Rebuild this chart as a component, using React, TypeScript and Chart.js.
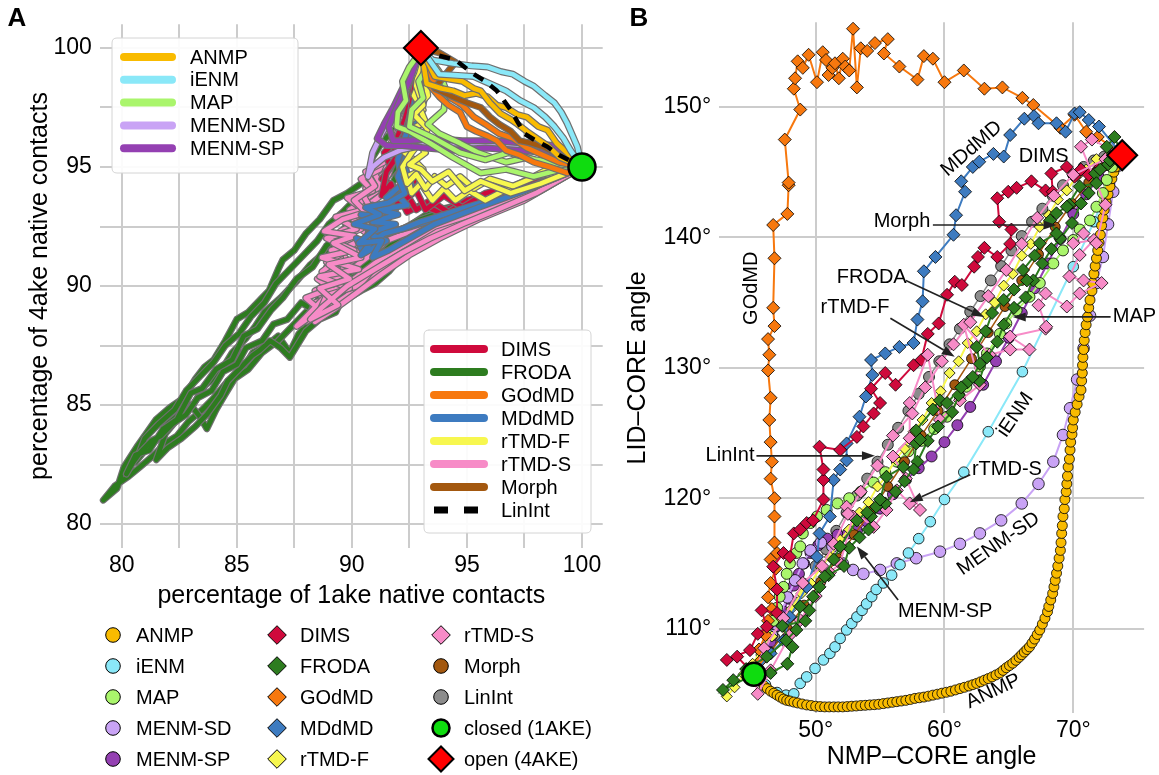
import React, { useEffect, useRef } from 'react';
import { Chart, registerables } from 'chart.js';

Chart.register(...registerables);

const FONT = '"Liberation Sans", Arial, Helvetica, sans-serif';

const COL: any = {
  ANMP: '#f9bb00', iENM: '#8ae8f8', MAP: '#aaf56c', 'MENM-SD': '#c9a3f5', 'MENM-SP': '#9440b2',
  DIMS: '#cf0a3c', FRODA: '#2d7c1f', GOdMD: '#f7780e', MDdMD: '#3d7bc0', 'rTMD-F': '#f7f74f',
  'rTMD-S': '#f78bc7', Morph: '#a3580f', LinInt: '#8c8c8c', closed: '#0fdc0f', open: '#ff0000',
};

// ---------------- Panel A data (percentage of native contacts) ----------------
const openA = [[93, 100]];
const closedA = [[100, 95]];

const frodaA1 = [[100,95],[99.0,94.6],[98.0,94.2],[97.1,93.7],[96.3,93.3],[95.4,93.0],[94.5,92.7],[93.6,92.5],[93.0,92.2],[92.6,91.6],[92.3,91.4],[91.6,90.6],[91.0,90.1],[90.4,89.8],[89.7,89.4],[89.0,89.1],[88.4,88.7],[87.7,88.0],[87.3,87.2],[86.8,87.9],[86.3,87.5],[85.7,87.2],[85.2,86.4],[84.6,86.0],[84.0,85.3],[83.5,84.8],[82.9,84.3],[82.4,83.7],[81.9,83.4],[81.4,82.9],[80.8,82.4],[80.3,82.0],[79.7,81.6],[79.2,81.0],[79.8,81.5],[80.1,82.4],[80.7,83.3],[81.5,84.4],[82.1,84.9],[82.7,85.3],[83.2,86.1],[83.6,86.6],[84.0,86.9],[84.5,87.7],[85.0,88.6],[85.5,88.9],[86.0,89.4],[86.4,89.8],[86.8,90.7],[87.0,91.1],[87.5,91.5],[88.0,92.2],[88.6,92.8],[89.2,93.6],[89.8,93.9],[90.4,94.3],[90.7,94.6],[90.9,95.4],[91.35,96.1],[91.9,96.6],[92.4,97.3],[92.7,97.9],[93.0,98.4],[93,100]];
const frodaA2 = [[100,95],[98.6,94.3],[97.2,94.0],[95.8,93.6],[94.6,93.4],[93.4,93.1],[92.6,92.6],[92.0,92.0],[91.3,91.5],[90.6,90.9],[89.8,90.3],[89.4,89.6],[88.8,89.4],[88.0,88.9],[87.4,88.3],[86.8,87.7],[86.1,87.2],[85.5,86.5],[84.9,86.1],[84.4,85.3],[84.1,84.8],[83.7,84.0],[83.4,84.5],[83.0,85.0],[82.5,84.6],[82.0,84.2],[81.6,83.6],[81.1,83.2],[80.6,82.6],[81.0,83.6],[81.6,84.2],[82.3,84.8],[82.8,85.6],[83.4,86.2],[84.0,86.8],[84.5,87.5],[85.1,88.0],[85.6,88.7],[86.2,89.3],[86.7,90.1],[87.3,90.7],[87.9,91.3],[88.5,91.9],[89.0,92.6],[89.6,93.1],[90.2,93.7],[90.9,94.0],[91.4,94.8],[91.8,95.6],[92.3,96.5],[92.6,97.4],[92.9,98.3],[93,100]];
const frodaA3 = [[100,95],[98.2,94.0],[96.8,93.5],[95.2,93.2],[94.0,92.9],[92.9,92.4],[92.1,91.7],[91.2,91.0],[90.5,90.5],[89.8,89.9],[89.3,88.9],[88.6,88.6],[88.0,88.1],[87.3,87.0],[86.9,87.4],[86.45,87.7],[86.0,87.3],[85.7,87.1],[85.2,86.6],[84.6,86.0],[84.3,85.4],[83.7,84.6],[83.2,84.1],[82.6,83.6],[82.0,83.2],[81.5,82.7],[81.9,83.8],[82.5,84.5],[83.1,85.0],[83.6,85.8],[84.3,86.4],[84.8,87.2],[85.4,87.8],[85.8,88.3],[86.2,88.9],[86.9,89.5],[87.6,90.2],[88.2,90.9],[88.8,91.4],[89.4,92.0],[90.0,92.7],[90.6,93.2],[91.1,93.8],[91.7,94.2],[92.2,95.1],[92.6,96.2],[92.9,97.0],[93.2,98.0],[93,100]];
const frodaA4 = [[100,95],[97.8,94.1],[96.0,93.7],[94.2,93.2],[93.0,92.8],[92.0,92.3],[91.2,91.6],[90.6,91.4],[90.0,90.6],[89.4,90.3],[88.7,89.7],[88.3,89.0],[87.8,89.3],[87.2,88.6],[86.6,88.4],[86.1,87.7],[85.4,87.4],[85.0,86.7],[84.4,86.4],[83.9,85.6],[83.3,85.3],[82.8,84.6],[82.2,84.2],[81.7,83.7],[81.3,83.5],[80.8,83.0],[80.5,82.6],[80.2,82.1],[80.6,82.9],[81.2,83.1],[81.8,84.0],[82.4,84.4],[83.0,85.5],[83.5,85.7],[84.1,86.5],[84.8,86.9],[85.3,87.9],[85.9,88.2],[86.5,89.0],[87.0,89.5],[87.6,90.3],[88.3,90.8],[88.9,91.7],[89.5,92.2],[90.2,93.1],[90.8,93.5],[91.3,94.3],[91.9,95.0],[92.3,96.0],[92.7,97.5],[93,100]];

const rtmdsA1 = [[100,95],[98.4,94.2],[97.0,93.6],[95.8,93.1],[94.6,92.6],[93.4,92.1],[92.5,91.5],[91.8,91.2],[91.2,90.6],[90.6,90.2],[89.8,89.6],[89.2,89.2],[88.6,88.8],[88.0,88.5],[88.4,89.3],[89.3,89.6],[88.7,90.0],[89.6,90.4],[88.9,90.8],[89.8,91.1],[89.3,91.6],[90.2,92.0],[89.7,92.4],[90.6,92.8],[90.2,93.3],[90.9,93.6],[90.6,94.1],[91.2,94.6],[91.5,95.4],[92.0,96.6],[92.5,97.8],[93,100]];
const rtmdsA2 = [[100,95],[98.0,94.0],[96.4,93.3],[95.0,92.7],[93.9,92.4],[92.9,91.9],[92.0,91.4],[91.0,90.8],[90.3,90.0],[89.4,89.8],[88.7,89.4],[88.2,88.9],[87.8,88.4],[88.3,88.9],[88.9,89.4],[88.4,89.8],[89.3,90.2],[88.7,90.6],[89.5,91.2],[89.1,91.5],[90.0,91.8],[89.5,92.3],[90.3,92.7],[89.9,93.2],[90.5,93.6],[91.1,94.0],[91.6,94.7],[91.9,95.5],[92.3,96.6],[92.7,98.0],[93,100]];
const rtmdsA3 = [[100,95],[97.6,94.1],[96.0,93.5],[94.4,93.0],[93.2,92.7],[92.3,92.2],[91.5,91.9],[90.8,91.3],[90.0,90.7],[89.4,90.4],[88.9,90.0],[89.6,90.8],[90.4,91.3],[89.9,91.7],[90.8,92.1],[90.1,92.6],[91.0,93.0],[90.7,93.4],[91.4,93.9],[91.0,94.3],[91.5,95.0],[92.0,96.0],[92.6,97.5],[93,100]];
const rtmdsA4 = [[100,95],[97.2,93.8],[95.2,93.0],[93.6,92.5],[92.4,91.8],[91.2,91.1],[90.1,90.3],[89.0,89.7],[88.1,88.8],[87.6,88.3],[88.6,89.0],[88.0,89.5],[89.1,89.9],[88.5,90.3],[89.4,90.7],[88.9,91.0],[89.8,91.5],[89.4,92.0],[90.4,92.4],[90.0,92.9],[90.8,93.3],[90.5,93.8],[91.3,94.2],[91.0,94.7],[91.7,95.3],[92.2,96.5],[92.7,98.0],[93,100]];
const rtmdsA5 = [[100,95],[97.5,93.6],[95.5,92.8],[93.8,92.0],[92.5,91.3],[91.3,90.5],[90.2,89.7],[89.2,89.0],[88.4,88.5],[88.9,89.6],[89.9,89.9],[88.6,90.4],[90.3,90.7],[88.7,91.2],[90.1,91.5],[88.9,92.0],[90.2,92.4],[89.3,92.9],[90.5,93.2],[89.8,93.7],[90.9,94.0],[90.4,94.5],[91.2,94.9],[91.5,95.6],[92.1,96.8],[92.7,98.2],[93,100]];
const rtmdsA6 = [[100,95],[98.0,93.9],[96.3,93.2],[94.8,92.6],[93.4,92.0],[92.2,91.4],[91.0,90.7],[89.8,90.0],[88.7,89.1],[88.2,88.6],[89.4,89.2],[88.6,89.9],[89.9,90.3],[89.0,90.9],[90.4,91.2],[89.2,91.8],[90.1,92.1],[88.8,92.3],[89.6,92.8],[90.6,93.1],[90.1,93.6],[91.0,94.2],[90.6,94.8],[91.4,95.2],[91.8,96.0],[92.4,97.4],[93,100]];

const dimsA1 = [[100,95],[98.5,94.6],[97.0,94.2],[95.6,93.8],[94.6,93.4],[93.8,93.1],[93.0,93.4],[92.4,93.1],[92.1,93.7],[91.6,93.4],[91.8,94.2],[91.3,94.5],[91.7,95.0],[91.4,95.6],[91.9,96.1],[92.3,97.0],[92.6,98.0],[93,100]];
const dimsA2 = [[100,95],[98.0,94.4],[96.5,94.0],[95.0,93.6],[94.2,93.1],[93.4,93.6],[92.8,93.2],[92.3,94.0],[92.7,94.4],[92.0,94.7],[92.4,95.2],[91.8,95.6],[92.3,96.4],[92.6,97.4],[93,100]];
const dimsA3 = [[100,95],[97.5,94.3],[95.8,93.9],[94.8,93.3],[94.0,93.8],[93.2,93.2],[92.8,94.0],[92.0,93.4],[91.7,94.3],[91.3,93.8],[91.5,94.8],[92.0,95.5],[92.5,97.0],[93,100]];

const mddmdA1 = [[100,95],[98.6,94.5],[97.3,94.0],[96.0,93.6],[94.8,93.2],[93.6,92.8],[92.6,92.5],[91.8,92.3],[91.0,92.0],[90.5,91.4],[90.2,92.0],[91.2,91.7],[90.6,92.5],[91.6,92.3],[90.4,93.0],[91.4,92.9],[90.9,93.4],[91.9,93.2],[91.5,93.7],[92.2,94.3],[92.0,95.3],[92.4,96.5],[92.8,98.0],[93,100]];
const mddmdA2 = [[100,95],[98.0,94.2],[96.7,93.8],[95.3,93.4],[94.0,93.0],[93.0,92.7],[92.2,92.4],[91.4,92.2],[90.8,91.8],[90.4,91.3],[91.5,91.9],[90.7,92.2],[91.9,92.6],[90.9,92.7],[92.0,93.0],[91.2,93.2],[92.4,93.4],[92.0,93.8],[92.6,94.2],[92.3,95.0],[92.6,96.3],[92.9,98.0],[93,100]];
const mddmdA3 = [[100,95],[97.5,94.0],[95.5,93.3],[93.6,92.6],[92.5,92.0],[91.6,91.5],[90.9,91.2],[91.3,91.9],[90.3,91.8],[91.0,92.4],[90.1,92.6],[91.2,93.0],[90.6,93.3],[91.6,93.5],[92.3,93.9],[92.0,94.6],[92.5,95.8],[92.8,97.5],[93,100]];

const rtmdfA1 = [[100,95],[98.5,94.9],[97.5,94.4],[96.6,94.0],[95.8,93.6],[95.1,94.0],[94.5,93.6],[94.0,94.1],[93.5,93.6],[93.0,94.3],[92.6,93.9],[92.4,94.6],[93.1,94.9],[92.7,95.3],[92.3,95.6],[92.8,96.3],[92.5,96.9],[93.1,97.4],[92.7,98.0],[93.0,98.7],[93,100]];
const rtmdfA2 = [[100,95],[98.0,94.6],[97.0,94.2],[96.0,94.5],[95.3,94.1],[94.7,94.6],[94.1,94.2],[93.6,94.6],[93.2,94.1],[92.8,94.7],[92.4,94.3],[92.2,95.0],[92.6,95.6],[93.0,96.1],[92.6,96.6],[93.2,96.9],[92.9,97.6],[93.3,98.0],[93,100]];
const rtmdfA3 = [[100,95],[98.2,94.3],[96.9,93.9],[95.6,94.4],[94.9,94.0],[94.2,94.8],[93.5,94.4],[93.0,94.9],[92.5,95.1],[93.2,95.6],[92.9,96.0],[93.3,96.6],[92.7,97.2],[93.1,97.6],[92.8,98.4],[93,100]];

const menmsdA1 = [[100,95],[98.8,95.5],[97.5,95.8],[96.3,95.9],[95.1,96.0],[94.0,96.0],[93.0,95.9],[92.1,95.7],[91.4,95.4],[90.9,95.0],[90.7,94.6],[90.9,95.6],[91.3,96.4],[91.8,97.2],[92.3,98.1],[92.7,99.0],[93,100]];
const menmspA1 = [[100,95],[98.6,95.6],[97.2,95.7],[95.8,95.8],[94.4,95.7],[93.2,95.8],[92.2,95.9],[91.5,95.9],[91.1,96.2],[91.4,96.8],[91.8,97.5],[92.2,98.3],[92.6,99.1],[93,100]];
const menmspA2 = [[100,95],[98.8,95.9],[97.6,96.0],[96.2,96.1],[94.8,96.1],[93.6,96.2],[92.5,96.1],[91.8,96.1],[91.6,96.7],[92.0,97.6],[92.5,98.6],[93,100]];

const mapA1 = [[93,100],[93.5,99.4],[93.8,99.0],[94.1,98.2],[94.0,97.4],[93.3,96.8],[93.8,96.4],[94.7,96.0],[95.5,95.6],[96.7,95.2],[97.6,95.4],[98.4,95.1],[99.3,95.2],[100,95]];
const mapA2 = [[93,100],[92.8,99.6],[92.5,99.2],[92.2,98.6],[92.35,97.8],[92.0,97.3],[91.95,96.7],[92.5,96.5],[93.4,96.0],[94.4,95.4],[95.6,94.75],[96.7,94.9],[97.9,94.6],[99.1,94.9],[100,95]];
const mapA3 = [[93,100],[93.3,99.2],[92.9,98.6],[93.1,97.9],[92.6,97.4],[92.5,96.7],[93.6,96.2],[94.7,95.6],[95.8,95.3],[96.8,95.6],[98.0,95.3],[99.2,95.1],[100,95]];

const godmdA1 = [[100,95],[99.35,94.75],[98.6,95.0],[97.9,95.2],[97.3,95.5],[96.7,95.7],[96.3,96.1],[95.9,96.3],[95.4,96.5],[95.0,96.7],[94.7,97.3],[94.2,97.6],[93.8,97.95],[93.4,98.4],[93.2,99.0],[93,100]];
const godmdA2 = [[100,95],[99.0,95.2],[98.3,95.5],[97.6,95.8],[97.0,96.2],[96.4,96.4],[95.8,96.8],[95.3,97.1],[94.8,97.6],[94.3,97.9],[93.9,98.3],[93.5,98.7],[93,100]];

const morphA1 = [[93,100],[93.8,99.8],[94.5,99.4],[94.0,98.8],[93.6,98.3],[94.4,97.95],[95.0,97.7],[95.6,97.5],[96.0,97.1],[96.4,96.8],[96.9,96.5],[97.3,96.1],[97.8,96.0],[98.3,95.85],[98.8,95.6],[99.2,95.4],[100,95]];

const anmpA1 = [[93,100],[93.25,98.5],[93.9,98.3],[94.4,98.2],[94.9,98.0],[95.4,98.1],[95.9,97.95],[96.3,97.6],[96.7,97.5],[97.2,97.2],[97.6,97.1],[98.1,96.7],[98.5,96.55],[98.9,96.0],[99.35,95.6],[100,95]];
const anmpA2 = [[93,100],[93.6,98.8],[94.2,98.7],[94.8,98.6],[95.3,98.3],[95.6,98.2],[96.0,97.7],[96.45,97.25],[96.9,97.0],[97.2,96.8],[97.6,96.5],[97.9,96.3],[98.5,95.9],[99.05,95.4],[100,95]];

const ienmA1 = [[93,100],[93.5,99.5],[94.4,99.35],[95.2,99.25],[95.9,99.2],[96.5,99.0],[97.0,98.9],[97.5,98.6],[97.9,98.4],[98.4,98.0],[98.8,97.7],[99.1,97.3],[99.35,96.85],[99.6,96.3],[99.8,95.85],[100,95]];
const ienmA2 = [[93,100],[93.8,98.9],[94.6,98.85],[95.3,98.8],[96.0,98.5],[96.7,98.2],[97.3,97.8],[97.9,97.5],[98.4,97.1],[98.8,96.7],[99.2,96.2],[99.5,95.7],[100,95]];

const linintA = [[93,100],[93.7,99.7],[94.5,99.5],[95.3,98.9],[95.8,98.6],[96.3,98.2],[96.6,97.8],[96.9,97.4],[97.2,96.9],[97.5,96.4],[98.0,96.1],[98.5,95.85],[99.0,95.5],[99.4,95.3],[100,95]];

// ---------------- Panel B data (NMP-CORE angle, LID-CORE angle) ----------------
const closedB = [[45.2, 106.5]];
const openB = [[73.8, 146.3]];

const godmdB = [[45.2,106.5],[45.8,107.6],[45.6,108.4],[46.1,109.5],[46.3,110.6],[46.6,111.5],[46.3,112.4],[46.5,113.5],[46.9,114.6],[46.5,115.3],[47.0,115.8],[46.8,116.6],[46.8,118.6],[46.8,120.0],[46.5,121.5],[46.6,122.8],[46.5,124.3],[46.4,126.0],[46.5,127.7],[46.3,129.8],[46.4,131.0],[46.3,132.2],[46.8,133.2],[46.7,134.6],[46.8,138.4],[46.7,140.95],[47.8,141.8],[47.9,144.0],[47.9,144.2],[47.6,147.5],[48.8,149.8],[48.3,151.4],[48.4,152.2],[48.6,153.5],[49.0,153.0],[49.45,154.0],[50.1,151.9],[50.55,154.2],[50.8,153.6],[51.0,152.45],[51.3,153.0],[51.5,153.35],[51.8,152.2],[52.1,153.7],[52.3,153.1],[52.6,152.8],[52.9,156.0],[53.2,151.5],[53.5,154.5],[54.0,154.3],[54.6,154.9],[55.6,155.2],[55.3,154.1],[56.5,153.1],[57.9,152.1],[58.4,153.9],[59.1,153.7],[60.0,151.9],[61.5,152.8],[63.1,151.4],[64.5,151.5],[66.05,150.7],[66.9,150.15],[69.0,148.4],[70.1,149.4],[71.0,148.1],[71.9,147.7],[73.8,146.3]];

const mddmdB = [[45.2,106.5],[46.5,108.1],[47.5,109.1],[48.0,110.9],[49.3,113.2],[50.1,115.5],[50.3,117.3],[51.1,118.6],[51.4,121.4],[51.9,122.2],[52.4,122.9],[52.4,124.2],[53.4,126.25],[53.9,127.8],[54.4,129.45],[54.3,130.6],[55.4,131.1],[56.5,131.6],[57.6,131.9],[57.9,133.7],[58.3,135.1],[58.4,137.4],[59.3,138.5],[60.7,140.2],[60.9,141.7],[61.6,143.5],[61.3,144.3],[62.2,145.4],[62.7,145.8],[63.8,146.4],[64.6,146.2],[65.1,147.85],[66.2,149.1],[66.95,149.3],[67.3,148.75],[68.7,148.75],[69.4,148.1],[70.1,149.5],[70.5,149.6],[71.2,149.0],[72.0,148.5],[73.8,146.3]];

const dimsB = [[45.2,106.5],[43.9,107.85],[43.1,107.6],[44.9,108.35],[45.5,109.6],[46.2,110.15],[45.8,111.4],[47.0,111.2],[47.0,113.0],[46.7,114.75],[47.5,115.8],[48.0,115.5],[48.3,117.3],[48.8,117.6],[49.3,118.1],[49.8,118.3],[50.6,119.9],[50.6,121.4],[50.6,122.2],[50.3,123.95],[51.9,123.7],[53.2,124.7],[53.7,125.5],[54.5,126.5],[55.0,127.3],[54.3,128.4],[55.4,129.6],[56.2,128.7],[57.6,130.2],[58.2,130.6],[58.7,132.6],[59.55,133.4],[60.2,135.6],[60.8,136.6],[61.35,136.35],[62.3,137.75],[62.6,138.5],[63.1,139.2],[64.1,138.5],[65.1,139.5],[65.2,140.6],[64.25,141.2],[64.1,143.0],[64.95,143.5],[65.6,143.8],[66.75,144.3],[67.85,143.6],[68.4,143.5],[68.3,144.9],[69.5,145.4],[70.1,144.65],[70.6,145.2],[71.2,144.8],[71.9,145.2],[73.8,146.3]];

const rtmdsB1 = [[45.2,106.5],[45.5,105.0],[46.5,106.8],[48.0,109.5],[48.8,110.65],[50.0,112.5],[51.1,114.3],[51.9,115.0],[52.9,118.6],[52.4,119.35],[54.5,117.8],[55.5,119.1],[56.3,120.6],[57.3,119.6],[58.1,119.1],[57.0,121.5],[56.0,123.2],[57.3,124.6],[57.3,127.3],[58.7,131.0],[59.65,126.0],[61.2,127.5],[62.75,128.7],[61.5,133.3],[63.5,131.0],[65.1,131.4],[66.6,131.4],[65.1,132.4],[67.85,133.0],[67.9,133.15],[67.3,134.8],[67.85,135.7],[69.5,134.7],[70.5,135.7],[72.2,136.5],[70.8,136.7],[69.7,137.0],[70.5,138.65],[71.6,139.8],[70.0,139.55],[70.8,140.3],[71.8,139.55],[72.5,142.5],[70.6,146.95],[71.45,147.5],[73.8,146.3]];
const rtmdsB2 = [[45.2,106.5],[46.0,108.5],[47.5,110.8],[49.0,113.5],[50.5,114.8],[51.4,116.5],[52.5,118.8],[53.5,120.5],[54.8,122.5],[56.0,124.8],[57.5,126.5],[58.5,128.5],[59.8,130.5],[60.7,131.8],[62.0,133.5],[63.4,135.5],[64.8,137.5],[66.0,139.5],[67.2,141.5],[68.5,143.2],[70.0,144.8],[72.5,146.0],[73.8,146.3]];

const linintB = [[45.2,106.5],[46.0,107.9],[46.8,109.3],[47.6,110.6],[48.4,112.0],[49.2,113.4],[50.0,114.8],[50.8,116.1],[51.6,117.5],[52.4,118.9],[53.2,120.2],[54.0,121.5],[54.8,122.8],[55.6,124.1],[56.4,125.4],[57.2,126.7],[58.0,128.0],[58.8,129.3],[59.6,130.5],[60.4,131.8],[61.2,133.0],[62.0,134.3],[62.8,135.5],[63.6,136.7],[64.4,137.8],[65.2,139.0],[66.0,140.1],[66.8,141.2],[67.6,142.2],[68.4,143.2],[69.2,144.0],[70.0,144.8],[70.8,145.4],[71.6,145.9],[72.4,146.2],[73.1,146.3],[73.8,146.3]];

const rtmdfB = [[43.1,104.8],[43.7,105.5],[44.4,106.5],[45.1,107.3],[45.9,108.5],[46.6,109.4],[47.4,110.7],[48.1,111.5],[48.9,112.7],[49.6,113.5],[50.4,114.7],[51.1,115.5],[51.9,116.8],[52.6,117.6],[53.4,118.9],[54.1,119.7],[54.8,120.9],[55.5,121.7],[56.2,123.0],[56.9,123.8],[57.6,125.1],[58.3,126.0],[59.0,127.3],[59.7,128.2],[60.4,129.6],[61.1,130.5],[61.8,131.9],[62.5,132.8],[63.2,134.1],[63.9,135.0],[64.6,136.3],[65.3,137.2],[66.0,138.6],[66.7,139.5],[67.4,140.8],[68.1,141.7],[68.8,142.9],[69.5,143.6],[70.3,144.7],[71.0,145.2],[71.8,146.0],[72.6,146.2],[73.8,146.3]];

const morphB = [[45.2,106.5],[46.5,108.2],[47.8,110.0],[49.1,111.8],[50.4,113.6],[51.7,115.4],[53.0,117.2],[54.3,119.0],[55.6,120.9],[56.9,122.8],[58.2,124.8],[59.5,126.7],[60.8,128.7],[62.1,130.7],[63.4,132.7],[64.7,134.7],[66.0,136.7],[67.3,138.7],[68.6,140.8],[69.9,142.6],[71.2,144.2],[72.5,145.5],[73.8,146.3]];

const frodaB1 = [[45.2,106.5],[42.8,105.3],[43.6,106.05],[44.6,106.9],[46.2,107.85],[47.7,109.1],[48.5,109.9],[48.8,111.7],[49.8,112.45],[50.7,114.0],[51.4,115.3],[51.9,116.3],[53.2,118.3],[54.0,118.9],[54.7,119.35],[55.0,119.9],[55.5,121.65],[56.8,122.4],[57.6,122.2],[57.8,124.2],[58.1,124.5],[57.8,125.2],[59.1,126.8],[59.65,127.5],[60.2,127.3],[61.3,128.5],[62.2,129.3],[62.75,130.3],[62.5,131.6],[63.2,132.8],[63.7,134.2],[64.6,135.2],[65.4,136.0],[66.4,136.7],[66.1,137.5],[67.0,138.6],[67.4,139.55],[68.7,140.3],[68.2,141.3],[68.7,141.85],[69.7,142.5],[69.5,142.35],[70.5,143.9],[71.8,144.15],[72.1,145.2],[72.85,145.9],[72.6,146.95],[73.2,147.7],[73.8,146.3]];
const frodaB2 = [[45.2,106.5],[46.5,106.6],[47.8,107.3],[48.2,108.6],[47.4,110.2],[49.2,110.6],[49.5,111.4],[50.3,113.2],[51.0,114.1],[52.2,114.8],[52.6,116.2],[53.4,117.0],[54.1,117.6],[54.3,118.6],[55.4,119.6],[56.2,120.5],[56.9,121.3],[57.9,122.8],[58.7,124.4],[59.5,125.5],[60.6,126.6],[61.1,127.9],[61.8,128.9],[62.7,129.0],[63.3,130.8],[64.1,132.0],[64.6,133.3],[65.4,134.6],[66.3,135.4],[66.9,136.7],[67.6,138.0],[68.3,139.1],[69.0,139.9],[69.9,141.1],[70.6,142.6],[71.2,143.4],[71.7,144.9],[72.7,145.6],[73.8,146.3]];

const mapB = [[45.2,106.5],[45.8,108.0],[46.3,109.5],[46.7,110.6],[47.0,111.6],[47.2,112.45],[47.5,113.2],[47.75,114.2],[48.0,115.0],[48.5,115.8],[48.8,116.3],[49.0,117.3],[49.6,118.1],[50.1,118.6],[50.85,119.1],[51.7,119.6],[52.6,120.0],[53.5,120.5],[54.5,121.2],[55.4,122.0],[56.3,122.8],[57.2,123.6],[58.2,124.4],[59.2,125.3],[60.2,126.25],[61.2,127.8],[61.7,128.55],[62.75,130.1],[63.3,131.1],[64.3,132.6],[64.8,133.4],[65.6,134.4],[66.6,135.45],[67.4,136.5],[68.45,138.0],[69.2,139.0],[70.0,139.8],[70.5,140.6],[71.3,141.3],[71.8,142.35],[72.3,143.4],[72.6,144.4],[73.0,145.4],[73.8,146.3]];

const menmspB = [[45.2,106.5],[45.9,107.8],[46.5,109.0],[47.0,110.2],[47.5,111.3],[47.9,112.3],[48.3,113.3],[48.7,114.2],[49.1,115.0],[49.6,115.8],[50.2,116.4],[50.9,116.9],[51.7,117.2],[52.5,117.3],[53.2,117.5],[54.0,118.2],[55.0,119.2],[56.0,120.3],[57.0,121.4],[58.0,122.3],[59.0,123.2],[60.0,124.3],[61.0,125.6],[62.0,127.0],[63.0,128.7],[64.0,130.5],[65.0,132.3],[66.0,134.2],[67.0,136.1],[68.0,138.0],[69.0,139.9],[70.0,141.8],[71.0,143.3],[72.0,144.6],[72.9,145.6],[73.8,146.3]];

const menmsdB = [[45.2,106.5],[45.9,108.0],[46.6,109.5],[47.2,111.0],[47.8,112.4],[48.4,113.7],[49.0,115.0],[49.6,116.0],[50.4,116.6],[51.3,116.3],[52.1,115.0],[52.9,114.5],[53.7,114.2],[55.0,114.5],[56.3,115.0],[57.8,115.4],[59.65,115.9],[61.2,116.5],[62.75,117.3],[64.4,118.3],[66.0,119.6],[67.3,121.1],[68.45,122.8],[69.2,124.85],[69.75,126.9],[70.3,129.1],[70.8,131.5],[71.3,134.0],[71.8,136.5],[72.3,138.5],[72.7,141.0],[73.1,143.5],[73.5,145.5],[73.8,146.3]];

const ienmB = [[45.2,106.5],[46.1,105.7],[47.0,105.1],[47.7,104.9],[48.3,105.0],[48.8,105.8],[49.3,106.3],[49.95,106.95],[50.6,107.6],[51.1,108.1],[51.5,108.6],[51.9,109.25],[52.4,109.9],[52.8,110.4],[53.2,110.9],[53.6,111.4],[53.95,111.9],[54.35,112.45],[54.7,113.0],[55.25,113.5],[55.9,114.1],[56.55,114.9],[57.2,115.8],[58.0,116.9],[58.9,118.2],[60.0,119.9],[61.5,122.0],[63.4,125.1],[66.05,129.7],[70.0,137.75],[71.6,141.2],[72.8,144.0],[73.8,146.3]];

const anmpB = [[45.2,106.5],[45.45,106.2],[45.7,105.95],[46.0,105.6],[46.25,105.4],[46.5,105.2],[46.75,105.05],[47.0,104.9],[47.25,104.75],[47.5,104.6],[47.75,104.5],[48.0,104.45],[48.3,104.37],[48.6,104.3],[48.95,104.22],[49.3,104.15],[49.65,104.1],[50.0,104.05],[50.35,104.02],[50.7,104.0],[51.05,104.0],[51.4,104.0],[51.75,104.0],[52.1,104.0],[52.45,104.02],[52.8,104.05],[53.15,104.07],[53.5,104.1],[53.85,104.12],[54.2,104.15],[54.55,104.17],[54.9,104.2],[55.25,104.25],[55.6,104.3],[55.95,104.35],[56.3,104.4],[56.65,104.45],[57.0,104.5],[57.35,104.57],[57.7,104.65],[58.05,104.7],[58.4,104.75],[58.75,104.82],[59.1,104.9],[59.45,104.97],[59.8,105.05],[60.15,105.12],[60.5,105.2],[60.85,105.3],[61.2,105.4],[61.55,105.5],[61.9,105.6],[62.2,105.7],[62.5,105.8],[62.8,105.92],[63.1,106.05],[63.4,106.17],[63.7,106.3],[64.0,106.45],[64.3,106.6],[64.55,106.8],[64.8,107.0],[65.05,107.17],[65.3,107.35],[65.55,107.57],[65.8,107.8],[66.0,108.0],[66.2,108.2],[66.4,108.4],[66.6,108.6],[66.8,108.9],[67.0,109.2],[67.2,109.55],[67.4,109.9],[67.6,110.35],[67.8,110.8],[68.0,111.3],[68.1,111.7],[68.25,112.2],[68.4,112.7],[68.5,113.2],[68.6,113.7],[68.7,114.25],[68.8,114.8],[68.9,115.4],[69.0,116.0],[69.05,116.6],[69.1,117.3],[69.15,117.9],[69.2,118.6],[69.3,119.2],[69.35,119.9],[69.45,120.5],[69.5,121.1],[69.55,121.7],[69.6,122.4],[69.7,123.0],[69.75,123.7],[69.8,124.3],[69.9,124.9],[69.95,125.4],[70.0,126.0],[70.15,126.6],[70.3,127.2],[70.45,127.8],[70.6,128.3],[70.65,129.0],[70.7,129.6],[70.72,130.2],[70.75,130.8],[70.8,131.4],[70.85,132.1],[70.92,132.7],[71.0,133.3],[71.1,133.9],[71.2,134.6],[71.3,135.2],[71.45,135.9],[71.5,136.5],[71.6,137.2],[71.7,137.8],[71.8,138.4],[71.9,139.0],[72.0,139.6],[72.1,140.2],[72.2,140.9],[72.3,141.5],[72.4,142.1],[72.55,142.7],[72.7,143.3],[72.85,143.9],[73.0,144.5],[73.15,145.0],[73.3,145.4],[73.5,145.9],[73.8,146.3]];

// ---------------- legends / annotations ----------------
const legendBoxTop = ['ANMP', 'iENM', 'MAP', 'MENM-SD', 'MENM-SP'];
const legendBoxBottom = ['DIMS', 'FRODA', 'GOdMD', 'MDdMD', 'rTMD-F', 'rTMD-S', 'Morph', 'LinInt'];
const legendCols = [
  ['ANMP', 'iENM', 'MAP', 'MENM-SD', 'MENM-SP'],
  ['DIMS', 'FRODA', 'GOdMD', 'MDdMD', 'rTMD-F'],
  ['rTMD-S', 'Morph', 'LinInt', 'closed (1AKE)', 'open (4AKE)'],
];
const MARK: any = {
  ANMP: 'circle', iENM: 'circle', MAP: 'circle', 'MENM-SD': 'circle', 'MENM-SP': 'circle',
  DIMS: 'rectRot', FRODA: 'rectRot', GOdMD: 'rectRot', MDdMD: 'rectRot', 'rTMD-F': 'rectRot',
  'rTMD-S': 'rectRot', Morph: 'circle', LinInt: 'circle',
};

const annotB = [
  { text: 'GOdMD', x: 45.0, y: 136.1, rot: -90 },
  { text: 'MDdMD', x: 62.1, y: 146.8, rot: -41 },
  { text: 'DIMS', x: 67.7, y: 146.2, rot: 0 },
  { text: 'Morph', x: 56.7, y: 141.2, rot: 0, from: [59.1, 140.95], to: [68.7, 140.95] },
  { text: 'FRODA', x: 54.35, y: 136.9, rot: 0, from: [57.0, 136.7], to: [63.1, 133.9] },
  { text: 'rTMD-F', x: 53.05, y: 134.6, rot: 0, from: [55.8, 133.8], to: [60.8, 130.85] },
  { text: 'MAP', x: 74.75, y: 133.9, rot: 0, from: [72.9, 133.9], to: [65.3, 133.9] },
  { text: 'LinInt', x: 43.35, y: 123.3, rot: 0, from: [45.4, 123.25], to: [54.6, 123.25] },
  { text: 'rTMD-S', x: 64.85, y: 122.2, rot: 0, from: [62.0, 121.8], to: [57.3, 119.7] },
  { text: 'iENM', x: 65.5, y: 126.4, rot: -56 },
  { text: 'MENM-SD', x: 64.2, y: 116.5, rot: -35 },
  { text: 'MENM-SP', x: 60.05, y: 111.3, rot: 0, from: [56.4, 112.2], to: [53.2, 116.3] },
  { text: 'ANMP', x: 63.8, y: 105.2, rot: -25 },
];

// ---------------- helpers ----------------
const xy = (arr: number[][]) => arr.map((p) => ({ x: p[0], y: p[1] }));

function lineDs(arr: number[][], color: string, width: number) {
  return {
    data: xy(arr), showLine: true, borderColor: color, borderWidth: width, pointRadius: 0,
    borderJoinStyle: 'round', borderCapStyle: 'round', tension: 0, clip: false,
  };
}

function markerDs(arr: number[][], style: string, r: number, fill: string, bw: number, lineColor?: string, lineW?: number) {
  return {
    data: xy(arr), showLine: !!lineW, borderColor: lineColor || fill, borderWidth: lineW || 0,
    pointStyle: style, pointRadius: r, pointBackgroundColor: fill, pointBorderColor: '#000',
    pointBorderWidth: bw, tension: 0, clip: false,
  };
}

function drawMarker(ctx: any, style: string, x: number, y: number, r: number, fill: string, lw: number) {
  ctx.beginPath();
  if (style === 'circle') ctx.arc(x, y, r, 0, Math.PI * 2);
  else { ctx.moveTo(x - r, y); ctx.lineTo(x, y - r); ctx.lineTo(x + r, y); ctx.lineTo(x, y + r); ctx.closePath(); }
  ctx.fillStyle = fill; ctx.fill();
  ctx.lineWidth = lw; ctx.strokeStyle = '#000'; ctx.stroke();
}

function roundBox(ctx: any, x: number, y: number, w: number, h: number) {
  const r = 5;
  ctx.beginPath();
  ctx.moveTo(x + r, y); ctx.lineTo(x + w - r, y); ctx.quadraticCurveTo(x + w, y, x + w, y + r);
  ctx.lineTo(x + w, y + h - r); ctx.quadraticCurveTo(x + w, y + h, x + w - r, y + h);
  ctx.lineTo(x + r, y + h); ctx.quadraticCurveTo(x, y + h, x, y + h - r);
  ctx.lineTo(x, y + r); ctx.quadraticCurveTo(x, y, x + r, y); ctx.closePath();
  ctx.fillStyle = 'rgba(255,255,255,0.92)'; ctx.fill();
  ctx.strokeStyle = '#d4d4d4'; ctx.lineWidth = 1; ctx.stroke();
}

function arrow(ctx: any, x1: number, y1: number, x2: number, y2: number) {
  const a = Math.atan2(y2 - y1, x2 - x1);
  const hl = 13, hw = 4.5;
  const bx = x2 - hl * Math.cos(a), by = y2 - hl * Math.sin(a);
  ctx.strokeStyle = '#222'; ctx.fillStyle = '#222'; ctx.lineWidth = 1.7;
  ctx.beginPath(); ctx.moveTo(x1, y1); ctx.lineTo(bx, by); ctx.stroke();
  ctx.beginPath(); ctx.moveTo(x2, y2);
  ctx.lineTo(bx + hw * Math.sin(a), by - hw * Math.cos(a));
  ctx.lineTo(bx - hw * Math.sin(a), by + hw * Math.cos(a));
  ctx.closePath(); ctx.fill();
}

const plugA = {
  id: 'decorA',
  afterDraw(chart: any) {
    const ctx = chart.ctx;
    ctx.save();
    ctx.textAlign = 'center'; ctx.textBaseline = 'middle'; ctx.fillStyle = '#000';
    ctx.font = `bold 26px ${FONT}`;
    ctx.fillText('A', 17, 19);

    roundBox(ctx, 112, 38, 186, 135);
    ctx.font = `20px ${FONT}`;
    legendBoxTop.forEach((name, i) => {
      const y = 57 + i * 22.8;
      ctx.strokeStyle = COL[name]; ctx.lineWidth = 8; ctx.lineCap = 'round';
      ctx.beginPath(); ctx.moveTo(124, y); ctx.lineTo(172, y); ctx.stroke();
      ctx.fillStyle = '#000'; ctx.textAlign = 'left'; ctx.fillText(name, 190, y + 1);
    });
    roundBox(ctx, 424, 330, 167, 203);
    legendBoxBottom.forEach((name, i) => {
      const y = 349 + i * 23;
      if (name === 'LinInt') {
        ctx.strokeStyle = '#000'; ctx.lineWidth = 7; ctx.lineCap = 'butt';
        ctx.beginPath(); ctx.moveTo(434, y); ctx.lineTo(448, y); ctx.moveTo(464, y); ctx.lineTo(478, y); ctx.stroke();
      } else {
        ctx.strokeStyle = COL[name]; ctx.lineWidth = 8; ctx.lineCap = 'round';
        ctx.beginPath(); ctx.moveTo(434, y); ctx.lineTo(484, y); ctx.stroke();
      }
      ctx.fillStyle = '#000'; ctx.textAlign = 'left'; ctx.fillText(name, 501, y + 1);
    });

    const colX = [113, 277, 441];
    legendCols.forEach((col, ci) => {
      col.forEach((name, ri) => {
        const y = 635 + ri * 31;
        const x = colX[ci];
        if (name === 'closed (1AKE)') drawMarker(ctx, 'circle', x, y, 8.5, COL.closed, 2.5);
        else if (name === 'open (4AKE)') drawMarker(ctx, 'rectRot', x, y, 12.5, COL.open, 2);
        else if (MARK[name] === 'circle') drawMarker(ctx, 'circle', x, y, 7.3, COL[name], 1);
        else drawMarker(ctx, 'rectRot', x, y, 9.3, COL[name], 1);
        ctx.fillStyle = '#000'; ctx.textAlign = 'left'; ctx.textBaseline = 'middle';
        ctx.font = `20px ${FONT}`;
        ctx.fillText(name, x + 23, y + 1);
      });
    });
    ctx.restore();
  },
};

const plugB = {
  id: 'decorB',
  afterDraw(chart: any) {
    const ctx = chart.ctx;
    const sx = chart.scales.x, sy = chart.scales.y;
    ctx.save();
    ctx.textAlign = 'center'; ctx.textBaseline = 'middle'; ctx.fillStyle = '#000';
    ctx.font = `bold 26px ${FONT}`;
    ctx.fillText('B', 34, 19);
    ctx.font = `20px ${FONT}`;
    annotB.forEach((a: any) => {
      if (a.from) {
        arrow(ctx, sx.getPixelForValue(a.from[0]), sy.getPixelForValue(a.from[1]),
          sx.getPixelForValue(a.to[0]), sy.getPixelForValue(a.to[1]));
      }
      const px = sx.getPixelForValue(a.x), py = sy.getPixelForValue(a.y);
      ctx.save();
      ctx.translate(px, py);
      ctx.rotate((a.rot * Math.PI) / 180);
      ctx.fillStyle = '#000'; ctx.textAlign = 'center'; ctx.textBaseline = 'middle';
      ctx.fillText(a.text, 0, 0);
      ctx.restore();
    });
    ctx.restore();
  },
};

function baseScale(min: number, max: number, step: number, fmt: (v: number) => string, title: string, tickPad: number) {
  return {
    type: 'linear', min, max,
    border: { display: false },
    grid: { color: '#cccccc', lineWidth: 2, drawTicks: false },
    ticks: {
      stepSize: step, includeBounds: false, autoSkip: false, maxRotation: 0, minRotation: 0,
      padding: tickPad, color: '#000', font: { family: FONT, size: 23 }, callback: fmt,
    },
    title: { display: true, text: title, color: '#000', font: { family: FONT, size: 25 }, padding: 0 },
  };
}

function configA() {
  const datasets: any[] = [];
  const groups: [string, number[][][]][] = [
    ['FRODA', [frodaA1, frodaA2, frodaA3, frodaA4]],
    ['rTMD-S', [rtmdsA1, rtmdsA2, rtmdsA3, rtmdsA4, rtmdsA5, rtmdsA6]],
    ['DIMS', [dimsA1, dimsA2, dimsA3]],
    ['MDdMD', [mddmdA1, mddmdA2, mddmdA3]],
    ['rTMD-F', [rtmdfA1, rtmdfA2, rtmdfA3]],
    ['MENM-SD', [menmsdA1]],
    ['MENM-SP', [menmspA1, menmspA2]],
    ['MAP', [mapA1, mapA2, mapA3]],
    ['GOdMD', [godmdA1, godmdA2]],
    ['Morph', [morphA1]],
    ['ANMP', [anmpA1, anmpA2]],
    ['iENM', [ienmA1, ienmA2]],
  ];
  groups.forEach(([name, trajs]) => trajs.forEach((t) => {
    datasets.push(lineDs(t, '#6f6f6f', 7));
    datasets.push(lineDs(t, COL[name], 4.6));
  }));
  datasets.push({ ...lineDs(linintA, '#000', 4.5), borderDash: [11, 9], borderCapStyle: 'butt' });
  datasets.push(markerDs(closedA, 'circle', 13.5, COL.closed, 2.5));
  datasets.push(markerDs(openA, 'rectRot', 17, COL.open, 2));
  const n = datasets.length;
  datasets.forEach((d, i) => { d.order = n - i; });

  const x: any = baseScale(79.05, 100.9, 2.5, (v: number) => (v % 5 === 0 ? String(v) : ''), 'percentage of 1ake native contacts', 4);
  x.afterFit = (s: any) => { s.height = 63.2; s.paddingLeft = 0; s.paddingRight = 0; };
  const y: any = baseScale(79, 101, 2.5, (v: number) => (v % 5 === 0 ? String(v) : ''), 'percentage of 4ake native contacts', 8);
  y.afterFit = (s: any) => { s.width = 74.85; s.paddingTop = 0; s.paddingBottom = 0; };

  return {
    type: 'scatter',
    data: { datasets },
    options: {
      animation: false, responsive: false, events: [],
      layout: { autoPadding: false, padding: { left: 25, top: 24.2, right: 2.3, bottom: 164 } },
      plugins: { legend: { display: false }, tooltip: { enabled: false } },
      scales: { x, y },
    },
    plugins: [plugA],
  };
}

function configB() {
  const datasets: any[] = [];
  datasets.push(markerDs(linintB, 'circle', 5.5, COL.LinInt, 0.8, COL.LinInt, 1.5));
  datasets.push(markerDs(menmspB, 'circle', 5.5, COL['MENM-SP'], 0.8, COL['MENM-SP'], 2));
  datasets.push(markerDs(menmsdB, 'circle', 5.8, COL['MENM-SD'], 0.8, COL['MENM-SD'], 2));
  datasets.push(markerDs(ienmB, 'circle', 5.3, COL.iENM, 0.8, COL.iENM, 2));
  datasets.push(markerDs(anmpB, 'circle', 5, COL.ANMP, 0.8, COL.ANMP, 1.5));
  datasets.push(markerDs(mapB, 'circle', 5.5, COL.MAP, 0.8, COL.MAP, 2));
  datasets.push(markerDs(rtmdfB, 'rectRot', 5.5, COL['rTMD-F'], 0.8, COL['rTMD-F'], 2));
  datasets.push(markerDs(morphB, 'circle', 5, COL.Morph, 0.8, COL.Morph, 1.5));
  datasets.push(markerDs(godmdB, 'rectRot', 6.5, COL.GOdMD, 0.8, COL.GOdMD, 2));
  datasets.push(markerDs(mddmdB, 'rectRot', 6.5, COL.MDdMD, 0.8, COL.MDdMD, 2));
  datasets.push(markerDs(dimsB, 'rectRot', 6.5, COL.DIMS, 0.8, COL.DIMS, 2));
  datasets.push(markerDs(rtmdsB1, 'rectRot', 6.5, COL['rTMD-S'], 0.8, COL['rTMD-S'], 2));
  datasets.push(markerDs(rtmdsB2, 'rectRot', 6.5, COL['rTMD-S'], 0.8, COL['rTMD-S'], 2));
  datasets.push(markerDs(frodaB2, 'rectRot', 6.5, COL.FRODA, 0.8, COL.FRODA, 2));
  datasets.push(markerDs(frodaB1, 'rectRot', 6.5, COL.FRODA, 0.8, COL.FRODA, 2));
  datasets.push(markerDs(closedB, 'circle', 11.5, COL.closed, 2.5));
  datasets.push(markerDs(openB, 'rectRot', 15, COL.open, 2));
  const n = datasets.length;
  datasets.forEach((d, i) => { d.order = n - i; });

  const deg = (v: number) => `${v}°`;
  const x: any = baseScale(42.5, 75.5, 10, deg, 'NMP–CORE angle', 3);
  x.afterFit = (s: any) => { s.height = 59; s.paddingLeft = 0; s.paddingRight = 0; };
  const y: any = baseScale(103.5, 156.5, 10, deg, 'LID–CORE angle', 8);
  y.afterFit = (s: any) => { s.width = 95.5; s.paddingTop = 0; s.paddingBottom = 0; };

  return {
    type: 'scatter',
    data: { datasets },
    options: {
      animation: false, responsive: false, events: [],
      layout: { autoPadding: false, padding: { left: 18.6, top: 22.2, right: 14.9, bottom: 2.6 } },
      plugins: { legend: { display: false }, tooltip: { enabled: false } },
      scales: { x, y },
    },
    plugins: [plugB],
  };
}

export default function App() {
  const refA = useRef<HTMLCanvasElement | null>(null);
  const refB = useRef<HTMLCanvasElement | null>(null);
  useEffect(() => {
    const ca = new Chart(refA.current as any, configA() as any);
    const cb = new Chart(refB.current as any, configB() as any);
    return () => { ca.destroy(); cb.destroy(); };
  }, []);
  return (
    <div style={{ position: 'fixed', left: 0, top: 0, width: 1159, height: 775, background: '#fff', overflow: 'hidden' }}>
      <div style={{ position: 'absolute', left: 0, top: 0, width: 605, height: 775 }}>
        <canvas ref={refA} width={605} height={775} style={{ width: 605, height: 775, display: 'block' }} />
      </div>
      <div style={{ position: 'absolute', left: 605, top: 0, width: 554, height: 775 }}>
        <canvas ref={refB} width={554} height={775} style={{ width: 554, height: 775, display: 'block' }} />
      </div>
    </div>
  );
}
